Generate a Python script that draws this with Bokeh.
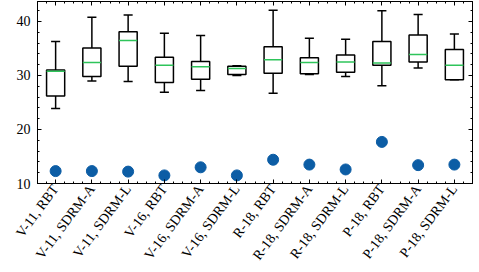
import numpy as np
from bokeh.plotting import figure
from bokeh.models import FixedTicker, LinearAxis, Range1d, ColumnDataSource
from bokeh.embed import file_html
from bokeh.resources import INLINE

labels = ["V-11, RBT", "V-11, SDRM-A", "V-11, SDRM-L", "V-16, RBT", "V-16, SDRM-A", "V-16, SDRM-L",
          "R-18, RBT", "R-18, SDRM-A", "R-18, SDRM-L", "P-18, RBT", "P-18, SDRM-A", "P-18, SDRM-L"]
whisker_lo = [23.9, 29.0, 28.9, 26.9, 27.2, 30.0, 26.7, 30.2, 29.8, 28.1, 31.4, 29.2]
q1 =         [26.2, 29.8, 31.7, 28.7, 29.3, 30.2, 30.4, 30.3, 30.6, 31.9, 32.5, 29.2]
median =     [30.8, 32.4, 36.5, 31.9, 31.6, 31.3, 32.9, 32.4, 32.5, 32.3, 33.9, 31.9]
q3 =         [31.0, 35.1, 38.1, 33.4, 32.6, 31.7, 35.3, 33.3, 33.8, 36.3, 37.5, 34.8]
whisker_hi = [36.3, 40.8, 41.2, 37.8, 37.4, 31.8, 42.1, 36.9, 36.7, 42.0, 41.3, 37.7]
dots =       [12.3, 12.3, 12.2, 11.5, 13.0, 11.5, 14.4, 13.5, 12.6, 17.7, 13.4, 13.5]
y_ticks = [10, 20, 30, 40]

pos = np.arange(1, len(labels) + 1, dtype=float)
bw = 0.5
cw = 0.25
FONT = "Liberation Serif"

src = ColumnDataSource(dict(x=pos, lo=whisker_lo, q1=q1, med=median, q3=q3, hi=whisker_hi,
                            dots=dots, ml=pos - bw / 2, mr=pos + bw / 2,
                            cl=pos - cw / 2, cr=pos + cw / 2))

p = figure(width=479, height=272, output_backend="svg", toolbar_location=None,
           x_range=Range1d(0.5, 12.5), y_range=Range1d(10, 43.7),
           min_border_left=37, min_border_right=7, min_border_top=1, min_border_bottom=89)
p.grid.visible = False
p.outline_line_color = "black"
p.outline_line_width = 1
p.background_fill_color = "white"
p.border_fill_color = "white"

p.segment(x0="x", y0="q3", x1="x", y1="hi", source=src, line_color="black", line_width=1.5)
p.segment(x0="x", y0="lo", x1="x", y1="q1", source=src, line_color="black", line_width=1.5)
p.segment(x0="cl", y0="hi", x1="cr", y1="hi", source=src, line_color="black", line_width=1.5)
p.segment(x0="cl", y0="lo", x1="cr", y1="lo", source=src, line_color="black", line_width=1.5)
p.vbar(x="x", width=bw, bottom="q1", top="q3", source=src, fill_color=None,
       line_color="black", line_width=1.5)
p.segment(x0="ml", y0="med", x1="mr", y1="med", source=src, line_color="#2ec45a", line_width=1.5)
p.scatter(x="x", y="dots", source=src, size=11, color="#0C5DA5")

xt = FixedTicker(ticks=list(pos), minor_ticks=list(np.arange(0.5, 12.51, 0.25)))
yt = FixedTicker(ticks=y_ticks, minor_ticks=list(np.arange(10, 44, 2)))

ax_b = p.xaxis[0]
ax_b.ticker = xt
ov = {float(v): l for v, l in zip(pos, labels)}
ov.update({int(v): l for v, l in zip(pos, labels)})
ax_b.major_label_overrides = ov
ax_b.major_label_orientation = 0.93
ax_l = p.yaxis[0]
ax_l.ticker = yt

ax_t = LinearAxis(ticker=xt)
ax_r = LinearAxis(ticker=yt)
p.add_layout(ax_t, "above")
p.add_layout(ax_r, "right")

blank_x = {float(v): "" for v in pos}
blank_x.update({int(v): "" for v in pos})
blank_y = {float(v): "" for v in y_ticks}
blank_y.update({int(v): "" for v in y_ticks})
ax_t.major_label_overrides = blank_x
ax_r.major_label_overrides = blank_y

for ax in [ax_b, ax_l, ax_t, ax_r]:
    ax.axis_line_color = "black"
    ax.axis_line_width = 1
    ax.major_tick_in = 4
    ax.major_tick_out = 0
    ax.minor_tick_in = 2
    ax.minor_tick_out = 0
    ax.major_tick_line_color = "black"
    ax.minor_tick_line_color = "black"
    ax.major_label_text_font = FONT
    ax.major_label_text_color = "black"
    ax.major_label_text_font_size = "14px"
    ax.major_label_standoff = 0
ax_l.major_label_standoff = 7
ax_b.major_label_standoff = 3
ax_t.major_label_text_font_size = "1px"
ax_r.major_label_text_font_size = "1px"

open("out.html", "w").write(file_html(p, INLINE))
